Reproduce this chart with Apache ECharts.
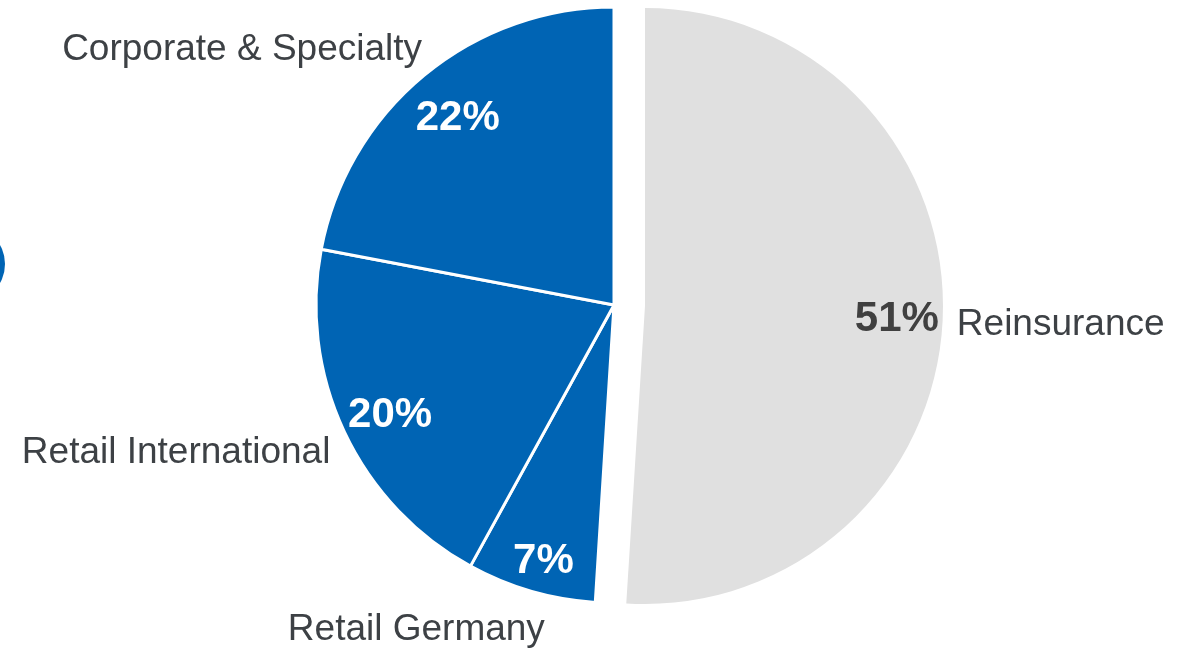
<!DOCTYPE html>
<html><head><meta charset="utf-8">
<script src="https://cdn.jsdelivr.net/npm/echarts@6/dist/echarts.min.js"></script>
<style>html,body{margin:0;padding:0;background:#fff}#c{width:1196px;height:648px}</style>
</head><body><div id="c"></div>
<script>
const categories = ['Reinsurance', 'Retail Germany', 'Retail International', 'Corporate & Specialty'];
const shares = [51, 7, 20, 22];
const percentLabels = ['51%', '7%', '20%', '22%'];

const BLUE = '#0064b4', GREY = '#e0e0e0', TEXT = '#3d4145';
const FONT = "'Liberation Sans', Arial, sans-serif";

const chart = echarts.init(document.getElementById('c'), null, {renderer: 'canvas'});

function nameNudge(p) {
  const d = [[14, 9], [14, 39], [-14, 21], [-2, -26]][p.dataIndex];
  return {dx: d[0], dy: d[1]};
}
function pctNudge(p) {
  const d = [[-1, 6], [0, 13], [5, 3], [5, 8]][p.dataIndex];
  return {dx: d[0], dy: d[1]};
}

const common = {
  type: 'pie',
  center: [614, 305],
  startAngle: 90,
  clockwise: true,
  selectedMode: 'single',
  selectedOffset: 31,
  avoidLabelOverlap: false,
  emphasis: {disabled: true},
  animation: false
};

chart.setOption({
  backgroundColor: '#fff',
  animation: false,
  graphic: [{
    type: 'circle', shape: {cx: -34, cy: 264, r: 39},
    style: {fill: BLUE}, silent: true
  }],
  series: [
    Object.assign({}, common, {
      name: 'slices',
      radius: 298,
      label: {
        show: true, position: 'outside', formatter: '{b}',
        fontSize: 37, fontFamily: FONT, color: TEXT,
        distanceToLabelLine: 0, overflow: 'none'
      },
      labelLine: {show: false, length: 0, length2: 0},
      labelLayout: nameNudge,
      data: categories.map((n, i) => ({
        name: n, value: shares[i], selected: i === 0,
        itemStyle: {color: i === 0 ? GREY : BLUE, borderColor: '#fff', borderWidth: i === 0 ? 0 : 3}
      }))
    }),
    Object.assign({}, common, {
      name: 'percent',
      radius: [202, 298],
      silent: true,
      itemStyle: {color: 'rgba(0,0,0,0)', borderWidth: 0},
      label: {
        show: true, position: 'inside',
        formatter: p => percentLabels[p.dataIndex],
        fontSize: 42, fontWeight: 'bold', fontFamily: FONT, color: '#fff'
      },
      labelLine: {show: false},
      labelLayout: pctNudge,
      data: categories.map((n, i) => ({
        name: n, value: shares[i], selected: i === 0,
        label: i === 0 ? {color: '#404040'} : undefined
      }))
    })
  ]
});
</script>
</body></html>
